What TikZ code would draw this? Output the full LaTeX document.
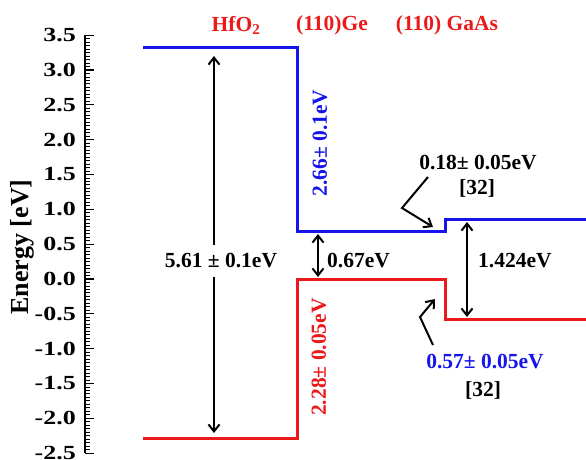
\documentclass[tikz,border=0pt]{standalone}
\usepackage{fontspec}
\setmainfont{Liberation Serif}
\usetikzlibrary{arrows.meta}
\definecolor{bandblue}{RGB}{20,20,235}
\definecolor{bandred}{RGB}{235,25,25}
\begin{document}
\begin{tikzpicture}[x=1pt,y=-1pt,
  band/.style={line width=3pt, line join=miter},
  lbl/.style={font=\fontsize{21.5}{25}\selectfont\bfseries, inner sep=1pt},
  toplbl/.style={lbl, text=bandred},
  dimarrow/.style={line width=2pt, {Straight Barb[length=7pt,width=11pt]}-{Straight Barb[length=7pt,width=11pt]}},
  ptrarrow/.style={line width=2pt, line join=miter, -{Straight Barb[length=7pt,width=11pt]}},
  ticklbl/.style={font=\fontsize{20}{24}\selectfont\bfseries, anchor=east, inner sep=0pt}]
\useasboundingbox (0,0) rectangle (586,459);
% axis
\draw[line width=1.4pt] (85,35.2) -- (85,453.2);
\foreach \i in {0,...,120}{
  \pgfmathsetmacro{\yy}{35.2+\i*3.4833}
  \draw[line width=1pt] (85,\yy) -- (90,\yy);
}
\foreach \v/\t in {3.5/3.5,3.0/3.0,2.5/2.5,2.0/2.0,1.5/1.5,1.0/1.0,0.5/0.5,0.0/0.0,-0.5/-0.5,-1.0/-1.0,-1.5/-1.5,-2.0/-2.0,-2.5/-2.5}{
  \pgfmathsetmacro{\yy}{279-69.67*\v}
  \draw[line width=1.3pt] (85,\yy) -- (94,\yy);
  \node[ticklbl] at (76,\yy) {\scalebox{1.3}[1]{\t}};
}
\node[rotate=90, font=\fontsize{26}{30}\selectfont\bfseries] (ylab) at (22,247) {Energy [eV]};
% bands
\draw[band, bandblue] (143,47) -- (297,47) -- (297,231) -- (445,231) -- (445,219) -- (586,219);
\draw[band, bandred] (143,438) -- (297,438) -- (297,279) -- (445,279) -- (445,319) -- (586,319);
% top labels
\node[toplbl] (thf) at (236,25) {HfO\textsubscript{2}};
\node[toplbl] (tge) at (332,25) {(110)Ge};
\node[toplbl] (tga) at (447,25) {(110) GaAs};
% dimension arrows
\coordinate (c561t) at (214,56);
\coordinate (c561b) at (214,433);
\coordinate (c067t) at (318,234);
\coordinate (c067b) at (318,277);
\coordinate (c1424t) at (467,222);
\coordinate (c1424b) at (467,317);
\draw[dimarrow] (c561t) -- (c561b);
\draw[dimarrow] (c067t) -- (c067b);
\draw[dimarrow] (c1424t) -- (c1424b);
\node[lbl, fill=white, inner ysep=9pt] (l561) at (221,261) {5.61 ± 0.1eV};
\node[lbl, anchor=west] (l067) at (326,261) {0.67eV};
\node[lbl, anchor=west] (l1424) at (477,261) {1.424eV};
\node[lbl, text=bandblue, rotate=90] (l266) at (320,143) {2.66± 0.1eV};
\node[lbl, text=bandred, rotate=90] (l228) at (319,357) {2.28± 0.05eV};
% offsets
\node[lbl] (l018) at (478,163) {0.18± 0.05eV};
\node[lbl] (l018r) at (477,188) {[32]};
\node[lbl, text=bandblue] (l057) at (485,362) {0.57± 0.05eV};
\node[lbl] (l057r) at (483,390) {[32]};
\coordinate (p1a) at (428,177);
\coordinate (p1b) at (402,208);
\coordinate (p1c) at (433,227);
\coordinate (p2a) at (433,345);
\coordinate (p2b) at (420,317);
\coordinate (p2c) at (435,299);
\draw[ptrarrow] (p1a) -- (p1b) -- (p1c);
\draw[ptrarrow] (p2a) -- (p2b) -- (p2c);
\end{tikzpicture}
\end{document}
